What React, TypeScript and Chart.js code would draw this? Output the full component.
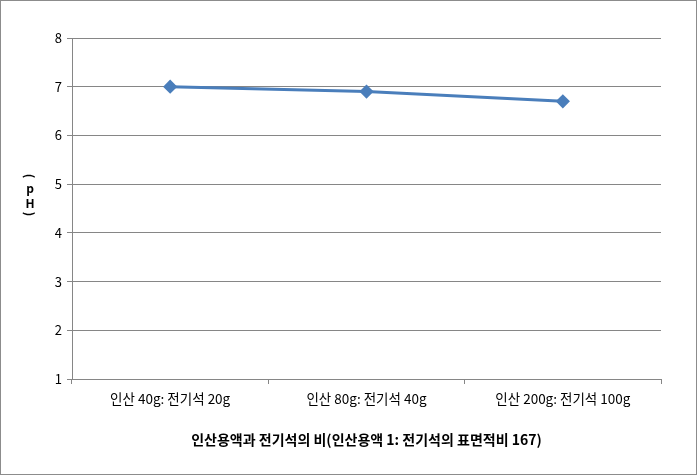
import React, { useEffect, useRef } from "react";
import { Chart, registerables } from "chart.js";

Chart.register(...registerables);

const categories = ["인산 40g: 전기석 20g", "인산 80g: 전기석 40g", "인산 200g: 전기석 100g"];
const phValues = [7.0, 6.9, 6.7];
const yTicks = [1, 2, 3, 4, 5, 6, 7, 8];
const xTitle = "인산용액과 전기석의 비(인산용액 1: 전기석의 표면적비 167)";
const yTitleChars = ["(", "p", "H", ")"];

const FONT = "'Noto Sans CJK KR', 'Noto Sans', sans-serif";
const GRID = "#868686";

const frame = {
  id: "frame",
  beforeDraw(chart: any) {
    const ctx = chart.ctx;
    ctx.save();
    ctx.fillStyle = "#ffffff";
    ctx.fillRect(0, 0, chart.width, chart.height);
    ctx.strokeStyle = "#8c8c8c";
    ctx.lineWidth = 1;
    ctx.strokeRect(0.5, 0.5, chart.width - 1, chart.height - 1);
    ctx.restore();
  },
  afterDraw(chart: any) {
    const ctx = chart.ctx;
    ctx.save();
    ctx.fillStyle = "#000000";
    ctx.textAlign = "center";
    ctx.textBaseline = "middle";
    const x = 30;
    const ys = [176, 188, 203, 214];
    yTitleChars.forEach((ch, i) => {
      ctx.save();
      const paren = ch === "(" || ch === ")";
      ctx.font = `bold 12px ${FONT}`;
      ctx.translate(x, ys[i]);
      if (paren) ctx.rotate(Math.PI / 2);
      ctx.fillText(ch, 0, 0);
      ctx.restore();
    });
    ctx.restore();
  },
};

export default function App() {
  const ref = useRef<HTMLCanvasElement>(null);
  useEffect(() => {
    document.body.style.margin = "0";
    const chart = new Chart(ref.current as HTMLCanvasElement, {
      type: "line",
      data: {
        labels: categories,
        datasets: [
          {
            label: "pH",
            data: phValues,
            borderColor: "#4A7EBB",
            backgroundColor: "#4A7EBB",
            borderWidth: 3,
            pointStyle: "rectRot",
            pointRadius: 5,
            pointBackgroundColor: "#4A7EBB",
            pointBorderColor: "#4A7EBB",
            tension: 0,
          },
        ],
      },
      options: {
        responsive: false,
        animation: false,
        layout: { padding: { left: 0, right: 36, top: 38, bottom: 0 } },
        plugins: { legend: { display: false }, tooltip: { enabled: false }, title: { display: false } },
        scales: {
          x: {
            type: "category",
            offset: true,
            grid: { display: true, offset: true, drawOnChartArea: false, drawTicks: true, tickLength: 5, color: GRID },
            border: { display: true, color: GRID },
            ticks: { color: "#000", font: { family: FONT, size: 13.5 }, padding: 7, maxRotation: 0 },
            title: {
              display: true,
              text: xTitle,
              color: "#000",
              font: { family: FONT, size: 14, weight: "bold" },
              padding: { top: 0, bottom: 27 },
            },
            afterFit(scale: any) {
              scale.height = 96;
            },
          },
          y: {
            min: 1,
            max: 8,
            afterBuildTicks(scale: any) {
              scale.ticks = yTicks.map((v) => ({ value: v }));
            },
            grid: { color: GRID, tickLength: 5, drawTicks: true },
            border: { display: true, color: GRID },
            ticks: { color: "#000", font: { family: FONT, size: 13 }, padding: 5 },
            afterFit(scale: any) {
              scale.width = 72;
            },
          },
        },
      },
      plugins: [frame],
    });
    return () => chart.destroy();
  }, []);
  return <canvas ref={ref} width={697} height={475} style={{ display: "block", width: 697, height: 475 }} />;
}
